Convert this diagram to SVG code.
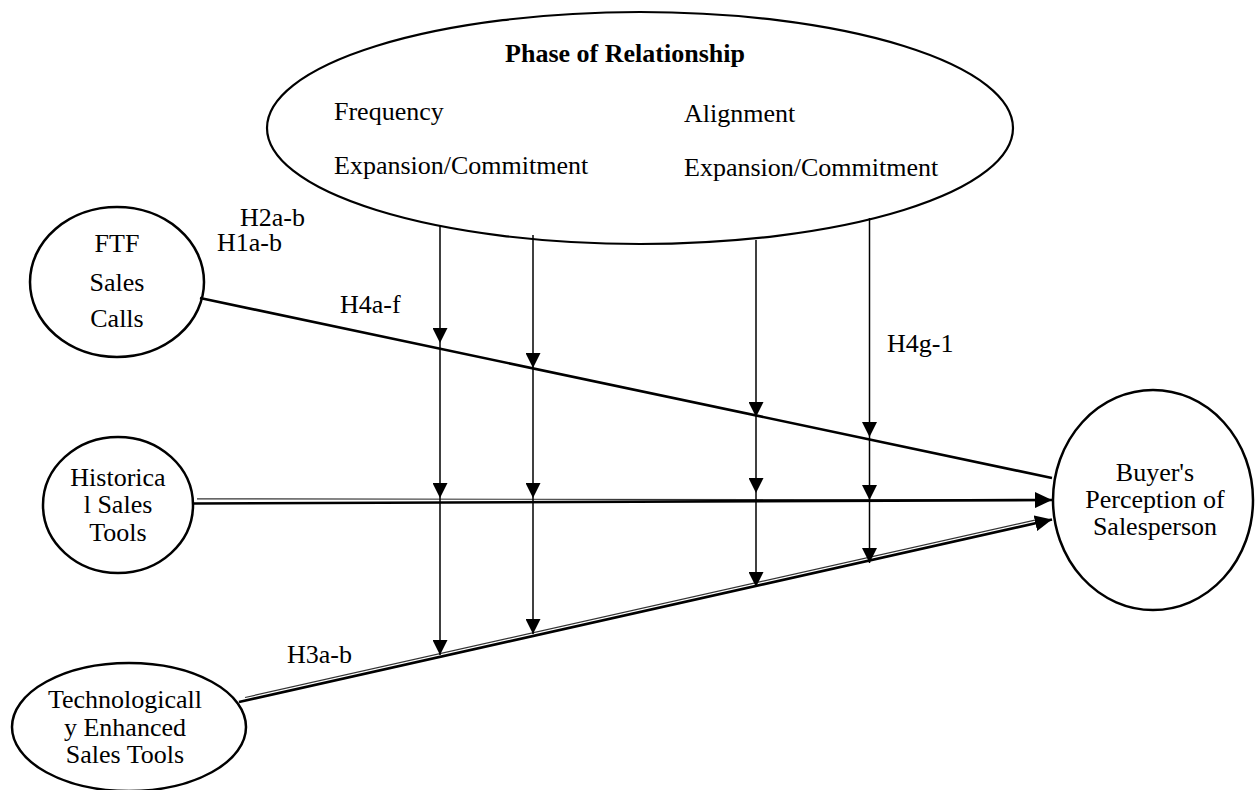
<svg xmlns="http://www.w3.org/2000/svg" width="1256" height="790" viewBox="0 0 1256 790">
<style>
text{font-family:"Liberation Serif","Times New Roman",serif;font-size:26px;fill:#000}
.b{font-weight:bold}
.m{text-anchor:middle}
.node{fill:#fff;stroke:#000;stroke-width:2.5}
.big{fill:#fff;stroke:#000;stroke-width:2.2}
.v{stroke:#000;stroke-width:1.5;fill:none}
.thick{stroke:#000;stroke-width:2.6;fill:none}
.thin{stroke:#333;stroke-width:1.2;fill:none}
</style>
<defs>
<marker id="a" viewBox="0 0 15 15" refX="15" refY="7.5" markerWidth="15" markerHeight="15" markerUnits="userSpaceOnUse" orient="auto"><path d="M0,0 L15,7.5 L0,15 z" fill="#000"/></marker>
<marker id="A" viewBox="0 0 17 16" refX="17" refY="8" markerWidth="17" markerHeight="16" markerUnits="userSpaceOnUse" orient="auto"><path d="M0,0 L17,8 L0,16 z" fill="#000"/></marker>
</defs>
<rect width="1256" height="790" fill="#fff"/>

<g id="phase">
<ellipse class="big" cx="640" cy="128" rx="373" ry="116"/>
<text class="b m" x="625" y="62">Phase of Relationship</text>
<text x="334" y="120">Frequency</text>
<text x="334" y="174">Expansion/Commitment</text>
<text x="684" y="122">Alignment</text>
<text x="684" y="176">Expansion/Commitment</text>
</g>

<g id="ftf">
<ellipse class="node" cx="117" cy="282" rx="87" ry="75"/>
<text class="m" x="117" y="252">FTF</text>
<text class="m" x="117" y="291">Sales</text>
<text class="m" x="117" y="327">Calls</text>
</g>

<g id="historical">
<ellipse class="node" cx="118" cy="505" rx="75" ry="68"/>
<text class="m" x="118" y="486">Historica</text>
<text class="m" x="118" y="513">l Sales</text>
<text class="m" x="118" y="541">Tools</text>
</g>

<g id="tech">
<ellipse class="node" cx="129" cy="727" rx="117" ry="64"/>
<text class="m" x="125" y="708">Technologicall</text>
<text class="m" x="125" y="736">y Enhanced</text>
<text class="m" x="125" y="763">Sales Tools</text>
</g>

<g id="buyer">
<ellipse class="node" cx="1153" cy="500" rx="100" ry="110"/>
<text class="m" x="1155" y="481">Buyer's</text>
<text class="m" x="1155" y="508">Perception of</text>
<text class="m" x="1155" y="535">Salesperson</text>
</g>

<g id="connectors">
<line class="thick" x1="200" y1="298" x2="1052" y2="478"/>
<line class="thin" x1="197" y1="498.8" x2="1036" y2="500"/>
<line class="thick" x1="192" y1="503.5" x2="1052" y2="500" marker-end="url(#A)"/>
<line class="thin" x1="245" y1="697.5" x2="1036" y2="519.8"/>
<line class="thick" x1="239" y1="702" x2="1052" y2="519.5" marker-end="url(#A)"/>

<line class="v" x1="440" y1="226" x2="440" y2="343" marker-end="url(#a)"/>
<line class="v" x1="440" y1="343" x2="440" y2="498" marker-end="url(#a)"/>
<line class="v" x1="440" y1="498" x2="440" y2="655" marker-end="url(#a)"/>

<line class="v" x1="533" y1="235" x2="533" y2="368" marker-end="url(#a)"/>
<line class="v" x1="533" y1="368" x2="533" y2="498" marker-end="url(#a)"/>
<line class="v" x1="533" y1="498" x2="533" y2="634" marker-end="url(#a)"/>

<line class="v" x1="756" y1="240" x2="756" y2="417" marker-end="url(#a)"/>
<line class="v" x1="756" y1="417" x2="756" y2="493" marker-end="url(#a)"/>
<line class="v" x1="756" y1="493" x2="756" y2="587" marker-end="url(#a)"/>

<line class="v" x1="869.5" y1="218" x2="869.5" y2="437" marker-end="url(#a)"/>
<line class="v" x1="869.5" y1="437" x2="869.5" y2="500" marker-end="url(#a)"/>
<line class="v" x1="869.5" y1="500" x2="869.5" y2="563" marker-end="url(#a)"/>
</g>

<g id="labels">
<text x="240" y="226">H2a-b</text>
<text x="217" y="251">H1a-b</text>
<text x="340" y="313">H4a-f</text>
<text x="887" y="352">H4g-1</text>
<text x="287" y="663">H3a-b</text>
</g>
</svg>
